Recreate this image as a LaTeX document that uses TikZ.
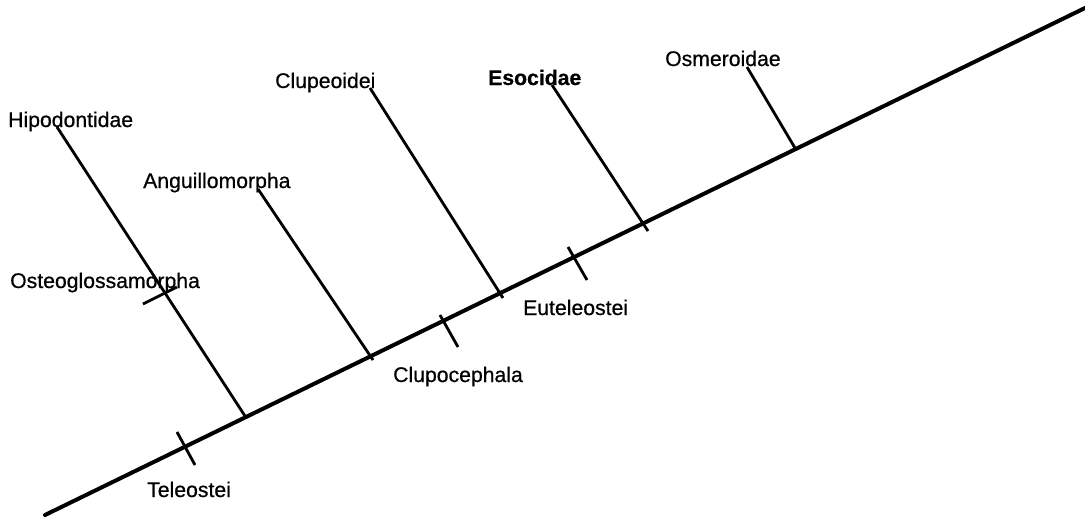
\documentclass[tikz,border=0pt]{standalone}
\usepackage{fontspec}
\setmainfont{Liberation Sans}[FakeBold=0.6]
\begin{document}
\begin{tikzpicture}[x=1pt,y=-1pt,
  lbl/.style={anchor=base west,inner sep=0pt,font=\fontsize{21.2}{25}\selectfont},
  trunk/.style={line width=4pt,line cap=round},
  branch/.style={line width=2.8pt},
  tick/.style={line width=2.8pt}]
\useasboundingbox (0,0) rectangle (1085,520);
% main line
\coordinate (start) at (45,515);
\coordinate (end) at (1085,8);
\draw[trunk] (start) -- (end);
% labels
\node[lbl] (hip) at (8,127) {Hipodontidae};
\node[lbl] (ang) at (143,188) {Anguillomorpha};
\node[lbl] (ost) at (10,288) {Osteoglossamorpha};
\node[lbl] (clu) at (275,88) {Clupeoidei};
\node[lbl,font=\fontsize{21.2}{25}\selectfont\bfseries] (eso) at (488,85) {Esocidae};
\node[lbl] (osm) at (665,66) {Osmeroidae};
\node[lbl] (tel) at (147,497) {Teleostei};
\node[lbl] (clc) at (393,382) {Clupocephala};
\node[lbl] (eut) at (523,315) {Euteleostei};
% branches
\coordinate (hipT) at (57,127);  \coordinate (hipB) at (245,416);
\coordinate (angT) at (258,189); \coordinate (angB) at (373,360);
\coordinate (cluT) at (370,88);  \coordinate (cluB) at (503,298);
\coordinate (esoT) at (552,85);  \coordinate (esoB) at (648,231);
\coordinate (osmT) at (747,67);  \coordinate (osmB) at (795,148);
\draw[branch] (hipT) -- (hipB);
\draw[branch] (angT) -- (angB);
\draw[branch] (cluT) -- (cluB);
\draw[branch] (esoT) -- (esoB);
\draw[branch] (osmT) -- (osmB);
% ticks
\coordinate (telA) at (177,432); \coordinate (telB) at (195,465);
\coordinate (clcA) at (440,315); \coordinate (clcB) at (458,347);
\coordinate (eutA) at (568,247); \coordinate (eutB) at (587,280);
\coordinate (ostA) at (143,304); \coordinate (ostB) at (177,287);
\draw[tick] (telA) -- (telB);
\draw[tick] (clcA) -- (clcB);
\draw[tick] (eutA) -- (eutB);
\draw[tick] (ostA) -- (ostB);
\end{tikzpicture}
\end{document}
